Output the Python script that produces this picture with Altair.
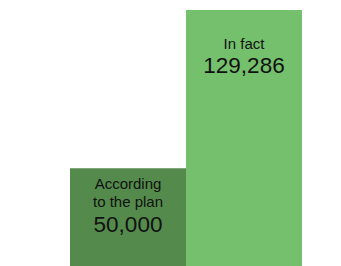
import altair as alt
import pandas as pd

keys = ["plan", "fact"]
label_line1 = ["According", ""]
label_line2 = ["to the plan", "In fact"]
values = [50000, 129286]
value_texts = ["50,000", "129,286"]
colors = ["#548a4c", "#75c06d"]

df = pd.DataFrame({
    "key": keys, "l1": label_line1, "l2": label_line2,
    "value": values, "vtext": value_texts,
})

x = alt.X("key:N", sort=keys, scale=alt.Scale(paddingInner=0, paddingOuter=0), axis=None)
y = alt.Y("value:Q", scale=alt.Scale(domain=[0, max(values)], nice=False, zero=True), axis=None)

base = alt.Chart(df)

bars = base.mark_bar().encode(
    x=x,
    y=y,
    color=alt.Color("key:N", scale=alt.Scale(domain=keys, range=colors), legend=None),
)

txt = dict(font="Liberation Sans", align="center", baseline="alphabetic", color="#111111")

lab1 = base.mark_text(fontSize=15, dy=21, **txt).encode(x=x, y=y, text="l1:N")
lab2 = base.mark_text(fontSize=15, dy=38.5, **txt).encode(x=x, y=y, text="l2:N")
val = base.mark_text(fontSize=22.5, dy=63.3, **txt).encode(x=x, y=y, text="vtext:N")

chart = (
    alt.layer(bars, lab1, lab2, val)
    .properties(
        width=232,
        height=258,
        autosize=alt.AutoSizeParams(type="none"),
        padding={"left": 62, "top": 2, "right": 0, "bottom": 0},
    )
    .configure_view(stroke=None)
)

chart.save("out.html", embed_options={"renderer": "svg", "actions": False})
